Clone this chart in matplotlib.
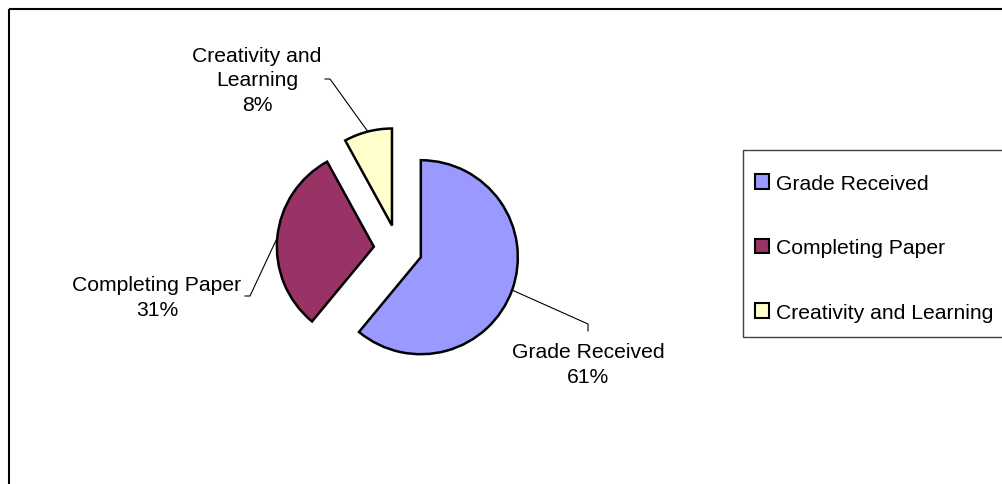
import numpy as np
import matplotlib
matplotlib.use("Agg")
import matplotlib.pyplot as plt
from matplotlib.patches import Rectangle, Patch

plt.rcParams['font.family'] = ['Liberation Sans', 'DejaVu Sans']

categories = ["Grade Received", "Completing Paper", "Creativity and Learning"]
label_text = ["Grade Received", "Completing Paper", "Creativity and\nLearning"]
values = [61, 31, 8]
colors = ["#9999FF", "#993366", "#FFFFCC"]

W, H = 1003, 485
fig = plt.figure(figsize=(W / 100, H / 100), dpi=100)

# overlay axes in pixel coordinates (origin top-left)
ov = fig.add_axes([0, 0, 1, 1])
ov.set_xlim(0, W)
ov.set_ylim(H, 0)
ov.axis('off')

# pie axes: center at (398, 250) px, radius 97 px
cx, cy, r = 398, 250, 97
half = 200
ax = fig.add_axes([(cx - half) / W, (H - cy - half) / H, 2 * half / W, 2 * half / H])
lim = half / r
ax.set_xlim(-lim, lim)
ax.set_ylim(-lim, lim)
ax.axis('off')

explode = [0.25] * len(values)
wedges, _ = ax.pie(values, colors=colors, explode=explode, startangle=90,
                   counterclock=False, radius=1,
                   wedgeprops=dict(edgecolor='black', linewidth=1.8))
ax.set_xlim(-lim, lim)
ax.set_ylim(-lim, lim)

total = sum(values)
fs = 15.2
# label anchor (line end) and text center positions, in pixels
anchors = [[(588, 325), (588, 332)], [(250, 297), (245, 297)], [(330, 80), (325, 80)]]
text_pos = [(588, 365), (157, 298), (257, 81)]

cum = 0
for i, v in enumerate(values):
    mid = (cum + v / 2) / total * 360.0
    cum += v
    th = np.deg2rad(mid)
    ex = explode[i]
    px = (ex + 1.0) * np.sin(th)
    py = (ex + 1.0) * np.cos(th)
    dx, dy = ax.transData.transform((px, py))
    sx, sy = dx, H - dy
    pts = [(sx, sy)] + anchors[i]
    ov.plot([p[0] for p in pts], [p[1] for p in pts], color='black', lw=0.8)
    pct = f"{v / total * 100:.0f}%"
    ov.text(text_pos[i][0], text_pos[i][1], f"{label_text[i]}\n{pct}",
            ha='center', va='center', multialignment='center', fontsize=fs,
            linespacing=1.38)

# outer chart frame
ov.add_patch(Rectangle((9, 10), 1100, 600, fill=False, edgecolor='black', lw=1.5))
# legend frame
ov.add_patch(Rectangle((743, 151), 400, 187, fill=False, edgecolor='#404040', lw=1.0))

handles = [Patch(facecolor=c, edgecolor='black', linewidth=1.5) for c in colors]
leg = ov.legend(handles, categories, loc='upper left',
                bbox_to_anchor=(755 / W, 1 - 175 / H), bbox_transform=fig.transFigure,
                frameon=False, fontsize=fs, handlelength=0.68, handleheight=0.68,
                handletextpad=0.33, labelspacing=2.15, borderpad=0, borderaxespad=0)

fig.savefig("out.png", dpi=100)
